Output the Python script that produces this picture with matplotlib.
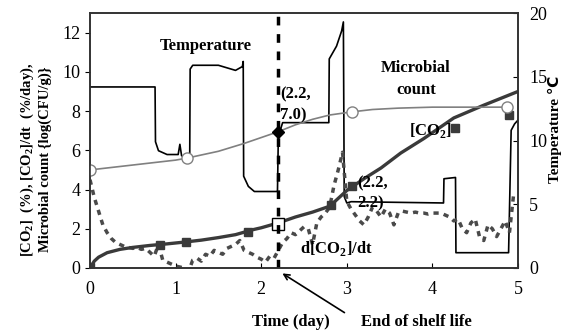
import numpy as np
import matplotlib
matplotlib.use('Agg')
from matplotlib import pyplot as plt

plt.rcParams['font.family'] = ['Liberation Serif', 'DejaVu Sans']
plt.rcParams['mathtext.fontset'] = 'custom'
plt.rcParams['mathtext.rm'] = 'Liberation Serif:bold'
plt.rcParams['mathtext.bf'] = 'Liberation Serif:bold'

# temperature log (right axis, C)
temp_t = [0, 0.76, 0.765, 0.80, 0.90, 1.03, 1.05, 1.07, 1.09, 1.165, 1.17, 1.20, 1.50, 1.70, 1.78,
          1.79, 1.795, 1.85, 1.92, 2.19, 2.20, 2.25, 2.79, 2.795, 2.88, 2.94, 2.96, 2.97, 3.00, 3.05,
          4.13, 4.135, 4.27, 4.275, 4.89, 4.92, 4.96, 5.0]
temp_v = [14.2, 14.2, 9.9, 9.2, 8.9, 8.9, 9.7, 8.8, 8.8, 8.8, 15.6, 15.9, 15.9, 15.5, 15.8,
          16.2, 7.2, 6.4, 6.0, 6.0, 10.3, 11.4, 11.4, 16.4, 17.4, 18.6, 19.3, 5.6, 5.1, 5.2,
          5.1, 7.0, 7.1, 1.2, 1.2, 10.8, 11.3, 11.6]

# microbial count, log(CFU/g)
micro_t = [0, 0.5, 1.0, 1.13, 1.5, 1.8, 2.0, 2.2, 2.4, 2.6, 2.8, 3.06, 3.3, 3.6, 4.0, 4.4, 4.87]
micro_v = [5.0, 5.25, 5.5, 5.6, 5.95, 6.35, 6.65, 6.95, 7.3, 7.58, 7.8, 7.96, 8.08, 8.15, 8.2, 8.2, 8.2]
micro_pt_t = [0, 1.13, 3.06, 4.87]
micro_pt_v = [5.0, 5.6, 7.96, 8.2]

# [CO2] (%)
co2_t = [0, 0.05, 0.1, 0.2, 0.35, 0.5, 0.7, 0.9, 1.1, 1.3, 1.5, 1.7, 1.9, 2.0, 2.2, 2.4, 2.6,
         2.8, 3.0, 3.2, 3.4, 3.63, 3.9, 4.25, 4.6, 5.0]
co2_v = [0, 0.35, 0.55, 0.78, 0.95, 1.05, 1.15, 1.23, 1.32, 1.42, 1.55, 1.7, 1.95, 2.05, 2.3,
         2.6, 2.85, 3.15, 3.95, 4.55, 5.1, 5.86, 6.6, 7.65, 8.3, 9.0]
co2_pt_t = [0, 0.82, 1.12, 1.84, 2.82, 3.06, 4.26, 4.9]
co2_pt_v = [0.05, 1.17, 1.33, 1.84, 3.2, 4.18, 7.14, 7.8]

# d[CO2]/dt (%/day), every 0.05 day
dco2_t = np.arange(0, 5.0, 0.05)
dco2_v = [4.5, 3.6, 2.9, 2.2, 1.8, 1.5, 1.3, 1.2, 1.1, 1.05,
          1.0, 1.05, 0.95, 1.0, 0.8, 0.6, 1.2, 0.4, 0.3, 0.2,
          0.1, 0.05, 0.0, -0.2, 0.4, 0.5, 0.35, 0.7, 0.6, 0.9,
          0.8, 0.7, 1.0, 1.1, 1.2, 1.4, 0.9, 0.8, 0.7, 0.55,
          0.45, 0.3, 0.6, 0.5, 0.9, 1.3, 1.5, 1.8, 1.7, 1.9,
          2.1, 2.0, 1.2, 2.3, 2.6, 2.8, 3.1, 4.2, 5.0, 5.9,
          3.4, 3.0, 2.7, 2.4, 2.2, 2.6, 3.1, 2.9, 2.6, 3.0,
          2.8, 2.2, 2.8, 2.9, 2.85, 2.8, 2.85, 2.8, 2.8, 2.75,
          2.8, 2.8, 2.8, 2.7, 2.6, 2.4, 2.5, 2.0, 1.8, 2.3,
          2.5, 1.6, 1.4, 2.2, 2.0, 1.6, 2.0, 2.4, 1.8, 3.8]

fig = plt.figure(figsize=(5.73, 3.36), dpi=100)
ax = fig.add_axes([90/573, 68/336, 428/573, 255/336])
ax2 = ax.twinx()

ax2.plot(temp_t, temp_v, color='black', lw=1.2, zorder=3)
ax2.set_ylim(0, 20)
ax2.set_yticks([0, 5, 10, 15, 20])

ax.set_zorder(ax2.get_zorder() + 1)
ax.patch.set_visible(False)

ax.plot(dco2_t, dco2_v, color='#4a4a4a', lw=2.5, ls=(0, (1.5, 1.5)))
ax.plot(co2_t, co2_v, color='#3a3a3a', lw=2.4)
ax.plot(co2_pt_t, co2_pt_v, 's', color='#3a3a3a', ms=6)
ax.plot([2.2], [2.24], 's', mfc='white', mec='black', mew=1, ms=8)
ax.plot(micro_t, micro_v, color='#808080', lw=1.2)
ax.plot(micro_pt_t, micro_pt_v, 'o', mfc='white', mec='#808080', mew=1, ms=8)
ax.plot([2.2], [6.95], 'D', color='black', ms=6)
ax.axvline(2.2, color='black', lw=2.5, ls=(0, (2.5, 2.5)))

ax.set_xlim(0, 5)
ax.set_ylim(0, 13)
ax.set_xticks([0, 1, 2, 3, 4, 5])
ax.set_yticks([0, 2, 4, 6, 8, 10, 12])
ax.tick_params(axis='x', direction='in', labelsize=13, pad=9)
ax.tick_params(axis='y', direction='out', labelsize=13)
ax2.tick_params(axis='y', direction='in', labelsize=13, pad=8)
for a in (ax, ax2):
    for s in a.spines.values():
        s.set_linewidth(1.2)
        s.set_color('#333333')

bold = dict(fontweight='bold', fontsize=12)
ax.text(1.35, 11.3, 'Temperature', ha='center', va='center', **bold)
ax.text(3.81, 10.2, 'Microbial', ha='center', va='center', **bold)
ax.text(3.81, 9.1, 'count', ha='center', va='center', **bold)
ax.text(3.98, 7.0, '[CO$_2$]', ha='center', va='center', **bold)
ax.text(2.88, 1.0, 'd[CO$_2$]/dt', ha='center', va='center', **bold)
ax.text(2.22, 8.3, '(2.2,\n7.0)', ha='left', va='center', linespacing=1.4, **bold)
ax.text(3.12, 3.8, '(2.2,\n2.2)', ha='left', va='center', linespacing=1.4, **bold)

ax.annotate('', xy=(2.22, -0.2), xytext=(3.0, -2.35), annotation_clip=False,
            arrowprops=dict(arrowstyle='->', color='black', lw=1.2))
ax.text(3.17, -2.75, 'End of shelf life', ha='left', va='center',
        clip_on=False, **bold)

fig.text(291/573, 1 - 322/336, 'Time (day)', ha='center', va='center', **bold)
fig.text(27/573, 1 - 160/336, '[CO$_2$]  (%), [CO$_2$]/dt  (%/day),', rotation=90,
         ha='center', va='center', fontweight='bold', fontsize=10.5)
fig.text(45/573, 1 - 159/336, 'Microbial count {log(CFU/g)}', rotation=90,
         ha='center', va='center', fontweight='bold', fontsize=10.5)
fig.text(555/573, 1 - 129/336, 'Temperature ℃', rotation=90,
         ha='center', va='center', fontweight='bold', fontsize=11)

fig.savefig('out.png', dpi=100)
